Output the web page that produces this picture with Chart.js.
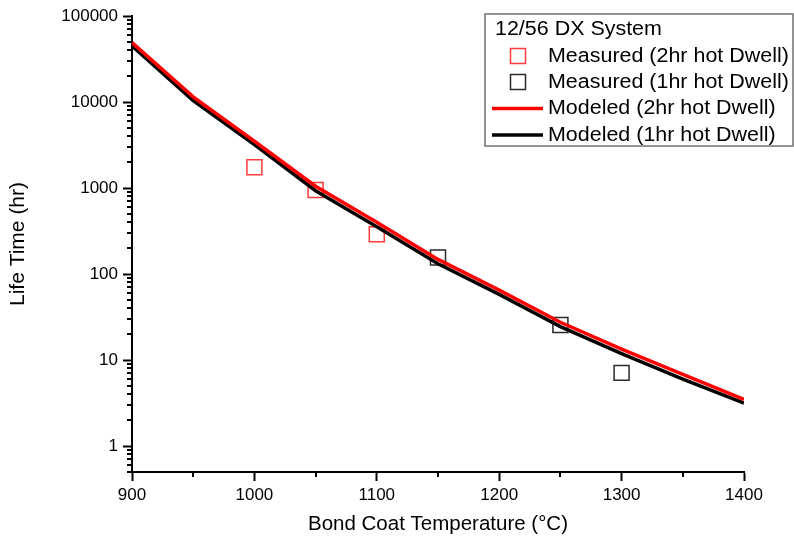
<!DOCTYPE html>
<html>
<head>
<meta charset="utf-8">
<script src="https://cdn.jsdelivr.net/npm/chart.js@4/dist/chart.umd.min.js"></script>
<style>
  html, body { margin: 0; padding: 0; background: #fff; }
  canvas { display: block; }
</style>
</head>
<body>
<canvas id="chart" width="794" height="541"></canvas>
<script>
// Bond coat temperature grid for the model curves (°C)
const temps = [900, 950, 1000, 1050, 1100, 1150, 1200, 1250, 1300, 1350, 1400];
// Modeled life (hr)
const model2hr = [49000, 11500, 3500, 1050, 400, 148, 65, 27.5, 13.4, 6.8, 3.5];
const model1hr = [44800, 10400, 3200, 930, 355, 132, 58, 24.5, 11.9, 6.0, 3.15];
// Measured life (hr)
const meas2hrTemps = [1000, 1050, 1100];
const meas2hrLife = [1740, 950, 290];
const meas1hrTemps = [1150, 1250, 1300];
const meas1hrLife = [156, 25.5, 7.1];
// Axis tick labels
const xTickValues = [900, 1000, 1100, 1200, 1300, 1400];
const yTickValues = [1, 10, 100, 1000, 10000, 100000];
const xMinorValues = [950, 1050, 1150, 1250, 1350];

const legendTitle = '12/56 DX System';
const labels = {
  meas2: 'Measured (2hr hot Dwell)',
  meas1: 'Measured (1hr hot Dwell)',
  model2: 'Modeled (2hr hot Dwell)',
  model1: 'Modeled (1hr hot Dwell)'
};

const FONT = "'Liberation Sans', Arial, Helvetica, sans-serif";
const RED = '#ff0000';
const RED_MARK = '#ff3b3b';
const BLACK_MARK = '#2a2a2a';

const toXY = (xs, ys) => xs.map((x, i) => ({ x: x, y: ys[i] }));

// Minor tick marks on both axes, placed through the chart's scales
const minorTicks = {
  id: 'minorTicks',
  afterDraw(chart) {
    const { ctx, scales: { x, y }, chartArea } = chart;
    ctx.save();
    ctx.strokeStyle = '#000';
    ctx.lineWidth = 2;
    ctx.beginPath();
    xMinorValues.forEach(v => {
      const px = Math.round(x.getPixelForValue(v));
      ctx.moveTo(px, chartArea.bottom);
      ctx.lineTo(px, chartArea.bottom + 5);
    });
    for (let e = -1; e <= 4; e++) {
      for (let k = 2; k <= 9; k++) {
        const v = k * Math.pow(10, e);
        if (v < y.min || v > y.max) continue;
        const py = Math.round(y.getPixelForValue(v));
        ctx.moveTo(chartArea.left, py);
        ctx.lineTo(chartArea.left - 5, py);
      }
    }
    ctx.stroke();
    ctx.restore();
  }
};

// Boxed legend with a heading, drawn from the dataset styles
const boxLegend = {
  id: 'boxLegend',
  afterDraw(chart) {
    const { ctx } = chart;
    const ds = chart.data.datasets;
    const box = { x: 485, y: 14, w: 308, h: 132 };
    const stretch = 1.1;
    ctx.save();
    ctx.fillStyle = '#fff';
    ctx.fillRect(box.x, box.y, box.w, box.h);
    ctx.strokeStyle = '#707070';
    ctx.lineWidth = 1.5;
    ctx.strokeRect(box.x, box.y, box.w, box.h);

    const text = (str, tx, ty) => {
      ctx.save();
      ctx.translate(tx, ty);
      ctx.scale(stretch, 1);
      ctx.fillText(str, 0, 0);
      ctx.restore();
    };
    ctx.font = '19.5px ' + FONT;
    ctx.fillStyle = '#000';
    ctx.textBaseline = 'middle';
    ctx.textAlign = 'left';
    text(legendTitle, 495, 29.5);

    const rows = [
      { ds: ds[2], y: 56 },
      { ds: ds[3], y: 82 },
      { ds: ds[0], y: 108.5 },
      { ds: ds[1], y: 135 }
    ];
    rows.forEach(r => {
      if (r.ds.showLine === false) {
        ctx.strokeStyle = r.ds.borderColor;
        ctx.lineWidth = 1.5;
        ctx.strokeRect(510.5, r.y - 7.5, 15, 15);
      } else {
        ctx.strokeStyle = r.ds.borderColor;
        ctx.lineWidth = r.ds.borderWidth;
        ctx.beginPath();
        ctx.moveTo(492, r.y);
        ctx.lineTo(543, r.y);
        ctx.stroke();
      }
      ctx.fillStyle = '#000';
      text(r.ds.label, 548, r.y + 0.5);
    });
    ctx.restore();
  }
};

new Chart(document.getElementById('chart'), {
  type: 'line',
  data: {
    datasets: [
      {
        label: labels.model2,
        data: toXY(temps, model2hr),
        borderColor: RED,
        borderWidth: 3.5,
        pointRadius: 0,
        tension: 0,
        fill: false
      },
      {
        label: labels.model1,
        data: toXY(temps, model1hr),
        borderColor: '#000',
        borderWidth: 3.5,
        pointRadius: 0,
        tension: 0,
        fill: false
      },
      {
        label: labels.meas2,
        data: toXY(meas2hrTemps, meas2hrLife),
        showLine: false,
        borderColor: RED_MARK,
        backgroundColor: 'rgba(0,0,0,0)',
        pointStyle: 'rect',
        pointRadius: 10.6,
        pointBorderWidth: 1.5,
        pointBorderColor: RED_MARK,
        pointBackgroundColor: 'rgba(0,0,0,0)'
      },
      {
        label: labels.meas1,
        data: toXY(meas1hrTemps, meas1hrLife),
        showLine: false,
        borderColor: BLACK_MARK,
        backgroundColor: 'rgba(0,0,0,0)',
        pointStyle: 'rect',
        pointRadius: 10.6,
        pointBorderWidth: 1.5,
        pointBorderColor: BLACK_MARK,
        pointBackgroundColor: 'rgba(0,0,0,0)'
      }
    ]
  },
  options: {
    responsive: false,
    devicePixelRatio: 1,
    animation: false,
    layout: { padding: { top: 16, right: 50, left: 0, bottom: 0 } },
    plugins: {
      legend: { display: false },
      tooltip: { enabled: false }
    },
    scales: {
      x: {
        type: 'linear',
        min: 900,
        max: 1400,
        afterBuildTicks: s => { s.ticks = xTickValues.map(v => ({ value: v })); },
        afterFit: s => { s.height = 69; },
        grid: { drawOnChartArea: false, drawTicks: true, tickLength: 9, tickColor: '#000', tickWidth: 2 },
        border: { display: true, color: '#000', width: 2 },
        ticks: {
          color: '#000',
          padding: 4,
          maxRotation: 0,
          font: { family: FONT, size: 17 },
          callback: v => String(v)
        },
        title: {
          display: true,
          text: 'Bond Coat Temperature (°C)',
          color: '#000',
          font: { family: FONT, size: 20.5 },
          padding: { top: 0, bottom: 4 }
        }
      },
      y: {
        type: 'logarithmic',
        min: 0.5,
        max: 100000,
        afterBuildTicks: s => { s.ticks = yTickValues.map(v => ({ value: v })); },
        afterFit: s => { s.width = 132; },
        grid: { drawOnChartArea: false, drawTicks: true, tickLength: 9, tickColor: '#000', tickWidth: 2 },
        border: { display: true, color: '#000', width: 2 },
        ticks: {
          color: '#000',
          padding: 5,
          font: { family: FONT, size: 17 },
          callback: v => String(v)
        },
        title: {
          display: true,
          text: 'Life Time (hr)',
          color: '#000',
          font: { family: FONT, size: 21 },
          padding: { top: 6, bottom: 0 }
        }
      }
    }
  },
  plugins: [minorTicks, boxLegend]
});
</script>
</body>
</html>
